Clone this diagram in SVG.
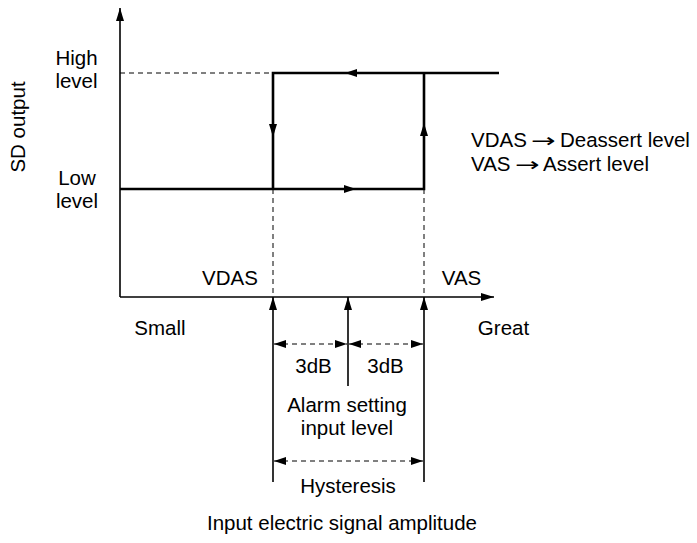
<svg xmlns="http://www.w3.org/2000/svg" width="697" height="543" viewBox="0 0 697 543">
<style>
text{font-family:"Liberation Sans",Arial,sans-serif;font-size:20.5px;fill:#000}
.c{text-anchor:middle}
.sym{font-family:"DejaVu Sans",sans-serif;font-size:19px}
.axis{stroke:#000;stroke-width:1.6;fill:none}
.curve{stroke:#000;stroke-width:2.6;fill:none}
.thin{stroke:#000;stroke-width:1.6;fill:none}
.dash{stroke:#000;stroke-width:1;stroke-dasharray:5,4;fill:none}
.ah{fill:#000;stroke:none}
</style>
<defs>
<marker id="arr" markerUnits="userSpaceOnUse" markerWidth="14" markerHeight="10" refX="13" refY="4" orient="auto">
<path d="M0,0 L13,4 L0,8 Z" fill="#000"/>
</marker>
<marker id="arrs" markerUnits="userSpaceOnUse" markerWidth="14" markerHeight="10" refX="12" refY="4" orient="auto-start-reverse">
<path d="M0,0 L12,4 L0,8 Z" fill="#000"/>
</marker>
</defs>
<g id="axes">
<line class="axis" x1="120" y1="297" x2="120" y2="8" marker-end="url(#arr)"/>
<line class="axis" x1="120" y1="297" x2="494" y2="297" marker-end="url(#arr)"/>
</g>
<g id="guides">
<line class="dash" x1="120" y1="73" x2="273" y2="73"/>
<line class="dash" x1="273" y1="189" x2="273" y2="297"/>
<line class="dash" x1="424" y1="189" x2="424" y2="297"/>
</g>
<g id="connectors">
<polyline class="curve" points="120,189 424,189 424,73"/>
<polyline class="curve" points="499,73 273,73 273,189"/>
<polygon class="ah" points="345,73 357,69 357,77"/>
<polygon class="ah" points="356,189 344,185 344,193"/>
<polygon class="ah" points="273,137 269,124 277,124"/>
<polygon class="ah" points="424,123 420,136 428,136"/>
<line class="thin" x1="273" y1="482" x2="273" y2="297" marker-end="url(#arr)"/>
<line class="thin" x1="348" y1="386" x2="348" y2="297" marker-end="url(#arr)"/>
<line class="thin" x1="424" y1="482" x2="424" y2="297" marker-end="url(#arr)"/>
<line class="dash" x1="274" y1="344" x2="347" y2="344" marker-start="url(#arrs)" marker-end="url(#arrs)"/>
<line class="dash" x1="349" y1="344" x2="423" y2="344" marker-start="url(#arrs)" marker-end="url(#arrs)"/>
<line class="dash" x1="274" y1="461" x2="423" y2="461" marker-start="url(#arrs)" marker-end="url(#arrs)"/>
</g>
<g id="labels">
<text class="c" x="76.5" y="65">High</text>
<text class="c" x="76.5" y="88">level</text>
<text class="c" x="77" y="185">Low</text>
<text class="c" x="77" y="208">level</text>
<text class="c" transform="translate(25,127) rotate(-90)">SD output</text>
<text class="c" x="230" y="285">VDAS</text>
<text class="c" x="461.5" y="285">VAS</text>
<text class="c" x="160" y="335">Small</text>
<text class="c" x="503.5" y="335">Great</text>
<text class="c" x="313.5" y="373">3dB</text>
<text class="c" x="385.5" y="373">3dB</text>
<text class="c" x="347" y="412">Alarm setting</text>
<text class="c" x="347" y="435">input level</text>
<text class="c" x="348" y="493">Hysteresis</text>
<text class="c" x="342" y="530">Input electric signal amplitude</text>
<text x="471" y="147">VDAS</text>
<text class="sym" transform="translate(531,147) scale(1.55,1)">→</text>
<text x="560" y="147">Deassert level</text>
<text x="471" y="171">VAS</text>
<text class="sym" transform="translate(515,171) scale(1.55,1)">→</text>
<text x="543" y="171">Assert level</text>
</g>
</svg>
